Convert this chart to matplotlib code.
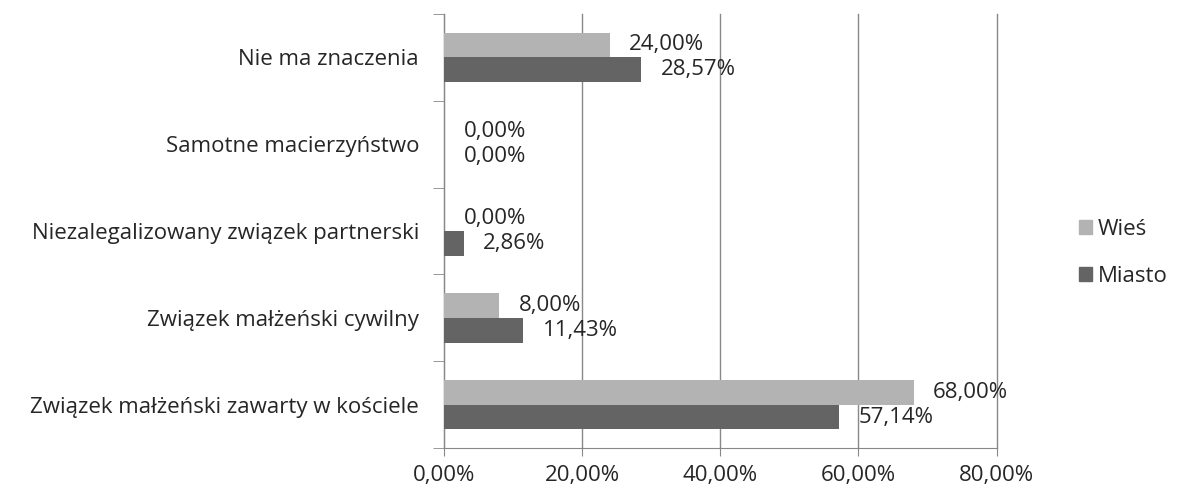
"""Rodzaj związku: wieś vs miasto."""

import matplotlib.pyplot as plt
import numpy as np
from matplotlib.patches import Patch

categories = [
    "Nie ma znaczenia",
    "Samotne macierzyństwo",
    "Niezalegalizowany związek partnerski",
    "Związek małżeński cywilny",
    "Związek małżeński zawarty w kościele",
]
wies = [24.00, 0.00, 0.00, 8.00, 68.00]
miasto = [28.57, 0.00, 2.86, 11.43, 57.14]
xticks = [0, 20, 40, 60, 80]

light = "#b3b3b3"
dark = "#646464"
text_col = "#262626"
plt.rcParams["font.family"] = ["Open Sans", "DejaVu Sans"]

fig = plt.figure(figsize=(11.78, 4.94), dpi=100)
ax = fig.add_axes([0.377, 0.093, 0.469, 0.879])

y = np.arange(len(categories))
h = 0.285
ax.barh(y - h / 2, wies, height=h, color=light, zorder=3)
ax.barh(y + h / 2, miasto, height=h, color=dark, zorder=3)

for yi, v in zip(y, wies):
    ax.annotate(f"{v:.2f}%".replace(".", ","), (v, yi - h / 2), xytext=(14, 0),
                textcoords="offset points", va="center", ha="left",
                fontsize=16, color=text_col)
for yi, v in zip(y, miasto):
    ax.annotate(f"{v:.2f}%".replace(".", ","), (v, yi + h / 2), xytext=(14, 0),
                textcoords="offset points", va="center", ha="left",
                fontsize=16, color=text_col)

ax.set_ylim(len(categories) - 0.5, -0.5)
ax.set_xlim(0, 80)
ax.set_yticks(y)
ax.set_yticklabels(categories, fontsize=16, color=text_col)
ax.set_yticks(np.arange(-0.5, len(categories)), minor=True)
ax.tick_params(axis="y", which="major", length=0, pad=18)
ax.tick_params(axis="y", which="minor", length=8, color="#888888")
ax.set_xticks(xticks)
ax.set_xticklabels([f"{t:.2f}%".replace(".", ",") for t in xticks],
                   fontsize=16, color=text_col)
ax.tick_params(axis="x", length=6, color="#888888", pad=6)
ax.grid(axis="x", color="#888888", linewidth=1, zorder=0)
for gl in ax.get_xgridlines():
    gl.set_clip_on(False)
for s in ["top", "right"]:
    ax.spines[s].set_visible(False)
for s in ["left", "bottom"]:
    ax.spines[s].set_color("#888888")

handles = [Patch(color=light, label="Wieś"), Patch(color=dark, label="Miasto")]
fig.legend(handles=handles, loc="center left", bbox_to_anchor=(0.916, 0.488),
           frameon=False, fontsize=16, handlelength=0.6, handleheight=0.6,
           handletextpad=0.25, labelspacing=1.2, labelcolor=text_col,
           borderpad=0, borderaxespad=0)

plt.savefig("out.png", dpi=100)
plt.close()
